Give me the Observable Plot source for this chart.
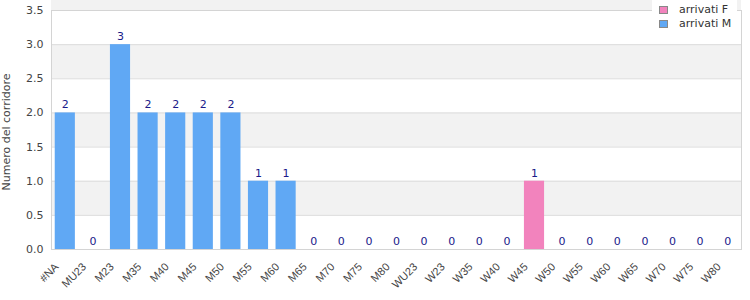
<!DOCTYPE html>
<html><head><meta charset="utf-8">
<script src="https://cdn.jsdelivr.net/npm/d3@7"></script>
<script src="https://cdn.jsdelivr.net/npm/@observablehq/plot@0.6"></script>
<style>
body{margin:0;background:#fff;font-family:"DejaVu Sans",sans-serif;}
#wrap{position:relative;width:750px;height:300px;}
#legend{position:absolute;left:652px;top:0px;width:85px;height:32px;background:#fff;font-size:11px;color:#333;}
.li{position:absolute;left:7px;display:flex;align-items:center;white-space:nowrap;}
.sw{width:7px;height:6px;border:1px solid #888;margin-right:11px;}
</style></head>
<body><div id="wrap"><div id="chart"></div>
<div id="legend">
<div class="li" style="top:3px"><span class="sw" style="background:#f283bd"></span>arrivati F</div>
<div class="li" style="top:17px"><span class="sw" style="background:#60a8f4"></span>arrivati M</div>
</div></div>
<script>
const categories = ["#NA","MU23","M23","M35","M40","M45","M50","M55","M60","M65","M70","M75","M80","WU23","W23","W35","W40","W45","W50","W55","W60","W65","W70","W75","W80"];
const arrivatiM = [2,0,3,2,2,2,2,1,1,0,0,0,0,0,0,0,0,0,0,0,0,0,0,0,0];
const arrivatiF = [0,0,0,0,0,0,0,0,0,0,0,0,0,0,0,0,0,1,0,0,0,0,0,0,0];
const yTicks = [0,0.5,1,1.5,2,2.5,3,3.5];
const seriesNames = ["arrivati M","arrivati F"];
const seriesColors = ["#60a8f4","#f283bd"];
const yLabel = "Numero del corridore";

const rows = [];
categories.forEach((c,i)=>{
  rows.push({cat:c, serie:seriesNames[0], v:arrivatiM[i]});
  rows.push({cat:c, serie:seriesNames[1], v:arrivatiF[i]});
});
const totals = categories.map((c,i)=>({cat:c, v:arrivatiM[i]+arrivatiF[i]}));
const bands = yTicks.filter((t,i)=>i%2===1).map(t=>({y1:t,y2:t+0.5}));

const chart = Plot.plot({
  width:750, height:300,
  marginLeft:51, marginRight:9, marginTop:10, marginBottom:51,
  style:{fontFamily:"DejaVu Sans, sans-serif", fontSize:"11px", color:"#444", background:"#fff"},
  x:{domain:categories, paddingInner:0.27, paddingOuter:0.135, round:false, label:null, axis:null},
  y:{domain:[0,3.5], label:null, axis:null},
  color:{domain:seriesNames, range:seriesColors},
  marks:[
    Plot.rect(bands,{y1:"y1",y2:"y2",fill:"#f2f2f2"}),
    Plot.gridY(yTicks,{stroke:"#dcdcdc",strokeOpacity:1}),
    Plot.frame({stroke:"#d4d4d4"}),
    Plot.barY(rows,{x:"cat",y:"v",fill:"serie",order:seriesNames}),
    Plot.text(totals,{x:"cat",y:"v",text:d=>String(d.v),dy:-8,fill:"#1a1a8a",fontSize:11}),
    Plot.axisY(yTicks,{tickSize:0,tickPadding:8,tickFormat:d3.format(".1f"),label:null,fill:"#444",fontSize:11}),
    Plot.text(categories,{x:d=>d,frameAnchor:"bottom",text:d=>d,rotate:-45,textAnchor:"end",dx:-6,dy:18,fill:"#444",fontSize:11,fontFamily:"Liberation Sans, Arial, sans-serif"}),
    Plot.text([yLabel],{frameAnchor:"left",rotate:-90,dx:-45,dy:2,textAnchor:"middle",text:d=>d,fill:"#444",fontSize:11})
  ]
});
document.getElementById("chart").appendChild(chart);
</script></body></html>
